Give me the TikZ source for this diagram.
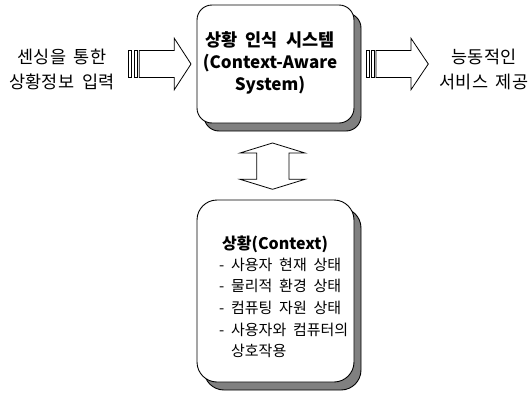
\documentclass[tikz,border=0pt]{standalone}
\usepackage{fontspec}
\setmainfont[WordSpace=2]{Noto Sans CJK KR}
\usetikzlibrary{shadows}
\definecolor{shadowgray}{RGB}{128,128,128}
\begin{document}
\begin{tikzpicture}[x=1pt,y=-1pt,
  roundbox/.style={draw=black, fill=white, line width=0.9pt, inner sep=0pt, outer sep=0pt,
    drop shadow={shadow xshift=7pt, shadow yshift=-8pt, fill=shadowgray, draw=black, opacity=1}},
  blockarrow/.style={draw=black, fill=white, line width=0.8pt, line join=miter},
  tailbar/.style={draw=black, fill=white, line width=0.7pt},
  bigtext/.style={font=\fontsize{17.5}{25}\selectfont, align=center, inner sep=0pt},
]
\useasboundingbox (0,0) rectangle (531,394);

% boxes
\node[roundbox, rounded corners=15pt, minimum width=157pt, minimum height=118pt] (sys) at (275.5,64) {};
\node[roundbox, rounded corners=20pt, minimum width=157pt, minimum height=182pt] (ctx) at (275.5,291) {};

% texts
\node[font=\bfseries\fontsize{17}{22}\selectfont, align=center, inner sep=0pt] (systext) at (270,63)
  {{\fontsize{17.5}{22}\selectfont 상황 인식 시스템}\\(Context-Aware\\System)};
\node[bigtext] (intext) at (62,69.5) {센싱을 통한\\상황정보 입력};
\node[bigtext] (outtext) at (484,69.5) {능동적인\\서비스 제공};
\node[font=\fontsize{15}{21.7}\selectfont, align=left, inner sep=0pt, anchor=north west] (ctxtext) at (219,236)
  {\hspace{3pt}{\bfseries\fontsize{16}{21.7}\selectfont 상황(Context)}\\[-1.5pt]
   - 사용자 현재 상태\\
   - 물리적 환경 상태\\
   - 컴퓨팅 자원 상태\\
   - 사용자와 컴퓨터의\\
   \hphantom{- }상호작용};

% left input arrow
\draw[tailbar] (128.3,50.5) rectangle (131.7,77.5);
\draw[tailbar] (134,50.5) rectangle (137.3,77.5);
\draw[blockarrow] (139.3,50.5) -- (174.3,50.5) -- (174.3,38.3) -- (191,64) -- (174.3,89.7)
  -- (174.3,77.5) -- (139.3,77.5) -- cycle;

% right output arrow
\draw[tailbar] (366,50.5) rectangle (369.3,77.5);
\draw[tailbar] (371,50.5) rectangle (374.3,77.5);
\draw[blockarrow] (376,50.5) -- (411,50.5) -- (411,38.3) -- (428.3,64) -- (411,89.7)
  -- (411,77.5) -- (376,77.5) -- cycle;

% double arrow between boxes
\draw[blockarrow] (272.5,143) -- (305,153) -- (289,153) -- (289,179.3) -- (305,179.3)
  -- (272.5,189.3) -- (240,179.3) -- (256.7,179.3) -- (256.7,153) -- (240,153) -- cycle;
\end{tikzpicture}
\end{document}
